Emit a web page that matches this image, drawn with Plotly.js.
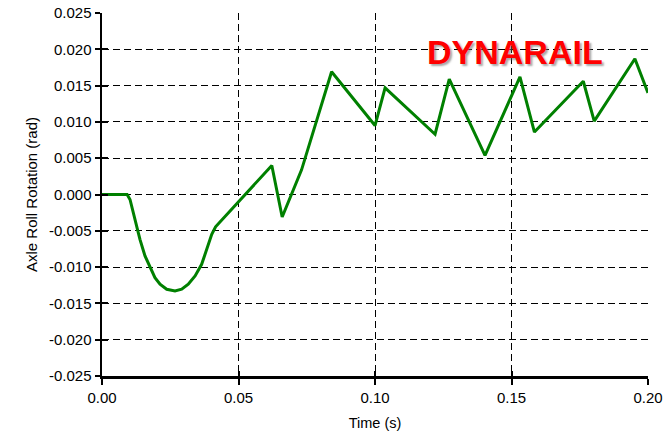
<!DOCTYPE html>
<html>
<head>
<meta charset="utf-8">
<script src="https://cdn.plot.ly/plotly-3.0.1.min.js"></script>
<style>html,body{margin:0;padding:0;background:#fff;}#chart{width:668px;height:435px;}</style>
</head>
<body>
<div id="chart"></div>
<script>
var timeS = [0, 0.0092, 0.01026, 0.01147, 0.0127, 0.0139, 0.01575, 0.01758, 0.0194, 0.02125, 0.0237, 0.02674,
  0.0292, 0.0316, 0.0341, 0.0365, 0.0383, 0.0402, 0.0416,
  0.0622, 0.0660, 0.0731, 0.0841, 0.1000, 0.1037, 0.1220, 0.1272, 0.1403, 0.1531, 0.1584, 0.1763, 0.1803, 0.1952, 0.2000];
var rollRad = [0, 0, -0.00069, -0.00252, -0.00435, -0.00618, -0.00847, -0.01007, -0.01145, -0.01236, -0.01305, -0.01328,
  -0.01305, -0.01236, -0.01122, -0.00962, -0.00755, -0.00549, -0.00445,
  0.0040, -0.0031, 0.0034, 0.0169, 0.0095, 0.0147, 0.0083, 0.0159, 0.0054, 0.0162, 0.0086, 0.0156, 0.0101, 0.0187, 0.0140];
var xTicks = [0, 0.05, 0.10, 0.15, 0.20];
var xTickText = ['0.00', '0.05', '0.10', '0.15', '0.20'];
var yTicks = [-0.025, -0.020, -0.015, -0.010, -0.005, 0, 0.005, 0.010, 0.015, 0.020, 0.025];
var yTickText = ['-0.025', '-0.020', '-0.015', '-0.010', '-0.005', '0.000', '0.005', '0.010', '0.015', '0.020', '0.025'];
var watermark = 'DYNARAIL';

var fam = 'Liberation Sans, Arial, sans-serif';
var fnt = {family: fam, size: 15, color: '#000'};

var trace = {
  x: timeS, y: rollRad, type: 'scatter', mode: 'lines',
  line: {color: '#008000', width: 3},
  showlegend: false, hoverinfo: 'skip'
};
var dummy = {x: [0], y: [0], xaxis: 'x2', yaxis: 'y2', mode: 'markers', marker: {opacity: 0}, showlegend: false, hoverinfo: 'skip'};

var layout = {
  width: 668, height: 435,
  margin: {l: 102, r: 20, t: 13, b: 59},
  paper_bgcolor: '#fff', plot_bgcolor: '#fff',
  font: fnt,
  xaxis: {
    range: [0, 0.2], tickvals: xTicks, ticktext: xTickText,
    showgrid: true, gridcolor: '#000', griddash: '7px,4px', gridwidth: 1,
    zeroline: false, showline: true, linecolor: '#000', linewidth: 2.5,
    ticks: 'outside', ticklen: 6, tickwidth: 2, tickcolor: '#000',
    tickfont: fnt,
    title: {text: 'Time (s)', font: {family: fam, size: 14.5, color: '#000'}, standoff: 14}
  },
  yaxis: {
    range: [-0.025, 0.025], tickvals: yTicks, ticktext: yTickText,
    showgrid: true, gridcolor: '#000', griddash: '7px,4px', gridwidth: 1,
    zeroline: false, showline: true, linecolor: '#000', linewidth: 2.5,
    ticks: 'outside', ticklen: 5, tickwidth: 2, tickcolor: '#000',
    tickfont: fnt,
    title: {text: 'Axle Roll Rotation (rad)', font: {family: fam, size: 15, color: '#000'}, standoff: 8}
  },
  xaxis2: {
    overlaying: 'x', matches: 'x', range: [0, 0.2], tickvals: xTicks, showticklabels: false,
    showgrid: false, zeroline: false, showline: false,
    ticks: 'inside', ticklen: 5, tickwidth: 2, tickcolor: '#000', anchor: 'y2', side: 'bottom'
  },
  yaxis2: {
    overlaying: 'y', range: [-0.025, 0.025], tickvals: yTicks, showticklabels: false,
    showgrid: false, zeroline: false, showline: false,
    ticks: 'inside', ticklen: 6, tickwidth: 2, tickcolor: '#000', anchor: 'x2', side: 'left'
  },
  annotations: [
    {xref: 'paper', yref: 'paper', x: (515 - 102) / 546, y: (376 - 52) / 363, xanchor: 'center', yanchor: 'middle',
     text: '<b>' + watermark + '</b>', showarrow: false,
     font: {family: fam, size: 34, color: '#ff0000', shadow: '2px 2px 2px rgba(110,110,110,0.6)'}}
  ]
};

Plotly.newPlot('chart', [trace, dummy], layout, {staticPlot: true, displayModeBar: false});
</script>
</body>
</html>
